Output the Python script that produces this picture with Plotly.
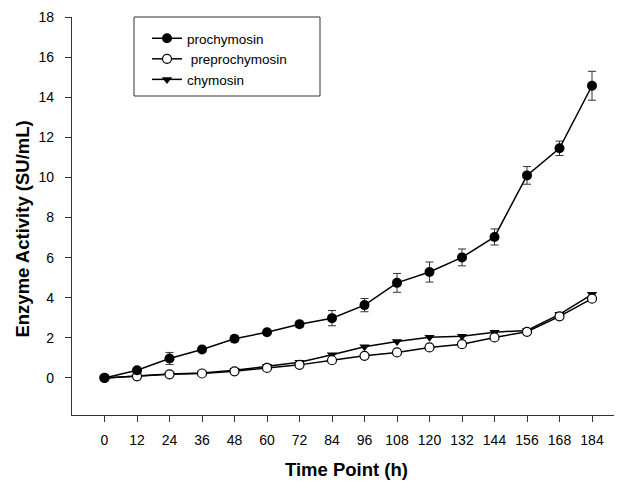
import plotly.graph_objects as go

time_labels = ["0", "12", "24", "36", "48", "60", "72", "84", "96", "108",
               "120", "132", "144", "156", "168", "184"]
prochymosin = [0, 0.38, 0.97, 1.42, 1.95, 2.28, 2.68, 2.98, 3.63, 4.74,
               5.28, 6.01, 7.03, 10.1, 11.45, 14.57]
prochymosin_err = [0.05, 0.08, 0.3, 0.15, 0.15, 0.08, 0.15, 0.38, 0.33, 0.47,
                   0.5, 0.42, 0.4, 0.44, 0.36, 0.72]
preprochymosin = [0, 0.08, 0.18, 0.22, 0.33, 0.5, 0.65, 0.88, 1.1, 1.27,
                  1.52, 1.68, 2.02, 2.3, 3.07, 3.95]
chymosin = [0, 0.1, 0.2, 0.25, 0.38, 0.58, 0.78, 1.15, 1.55, 1.82,
            2.03, 2.08, 2.28, 2.37, 3.17, 4.17]

xpos = list(range(len(time_labels)))
FONT = "Liberation Sans, Arial, sans-serif"

# page body adds an 8px offset; figure is sized to fill the rest of the window
W, H = 614, 474
ML, MR, MT, MB = 64, 0, 9, 67
PW, PH = W - ML - MR, H - MT - MB


def px(xw):
    return (xw - 8 - ML) / PW


def py(yw):
    return 1 - (yw - 8 - MT) / PH


fig = go.Figure()
fig.add_trace(go.Scatter(
    x=xpos, y=chymosin, name="chymosin", mode="lines+markers",
    line=dict(color="black", width=1.5),
    marker=dict(symbol="triangle-down", size=9, color="black"),
))
fig.add_trace(go.Scatter(
    x=xpos, y=preprochymosin, name=" preprochymosin", mode="lines+markers",
    line=dict(color="black", width=1.5),
    marker=dict(symbol="circle", size=9, color="white",
                line=dict(color="black", width=1.2)),
))
fig.add_trace(go.Scatter(
    x=xpos, y=prochymosin, name="prochymosin", mode="lines+markers",
    line=dict(color="black", width=1.5),
    marker=dict(symbol="circle", size=10, color="black"),
    error_y=dict(type="data", array=prochymosin_err, visible=True,
                 color="#333333", thickness=1, width=4),
))

fig.add_shape(type="rect", xref="paper", yref="paper",
              x0=px(134), x1=px(320), y0=py(96), y1=py(17),
              line=dict(color="#333333", width=1), fillcolor="rgba(0,0,0,0)",
              layer="above")

fig.add_annotation(text="<b>Enzyme Activity (SU/mL)</b>", textangle=-90,
                   xref="paper", yref="y", x=px(23), y=7.4,
                   xanchor="center", yanchor="middle", showarrow=False,
                   font=dict(size=18.5, family=FONT, color="black"))
fig.add_annotation(text="<b>Time Point (h)</b>",
                   xref="paper", yref="paper", x=px(346), y=py(469),
                   xanchor="center", yanchor="middle", showarrow=False,
                   font=dict(size=18.5, family=FONT, color="black"))

fig.update_layout(
    width=W, height=H,
    margin=dict(l=ML, r=MR, t=MT, b=MB),
    paper_bgcolor="white", plot_bgcolor="white",
    font=dict(family=FONT, size=13, color="black"),
    showlegend=True,
    legend=dict(
        x=px(147), y=py(23), xanchor="left", yanchor="top",
        borderwidth=0, bgcolor="rgba(0,0,0,0)",
        traceorder="reversed", font=dict(size=13.5, family=FONT),
        tracegroupgap=0,
    ),
)
fig.update_xaxes(
    range=[-1, -1 + PW / 32.5],
    tickmode="array", tickvals=xpos, ticktext=time_labels,
    showline=True, linecolor="#333333", linewidth=1.2,
    ticks="outside", ticklen=6, tickcolor="#333333",
    showgrid=False, zeroline=False,
    tickfont=dict(size=14), ticklabelstandoff=6,
)
fig.update_yaxes(
    range=[-1.85, 18],
    tickmode="array", tickvals=list(range(0, 19, 2)),
    showline=True, linecolor="#333333", linewidth=1.2,
    ticks="outside", ticklen=6, tickcolor="#333333",
    showgrid=False, zeroline=False,
    tickfont=dict(size=14), ticklabelstandoff=8,
)

fig.write_html("out.html")
